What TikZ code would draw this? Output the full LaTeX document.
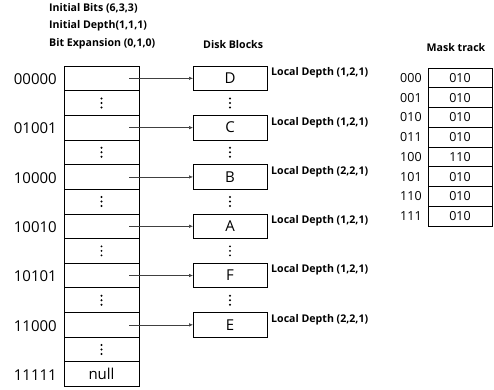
\documentclass[tikz,border=0pt]{standalone}
\usepackage{fontspec}
\setmainfont{Open Sans}
\usetikzlibrary{arrows.meta}
\begin{document}
\begin{tikzpicture}[x=1pt,y=-1pt,
  cell/.style={draw,line width=0.8pt,minimum width=75pt,minimum height=24.65pt,inner sep=0pt,outer sep=0pt,font=\fontsize{15}{15}\selectfont},
  blk/.style={cell,minimum width=74pt},
  mcell/.style={draw,line width=0.8pt,minimum width=64pt,minimum height=19.75pt,inner sep=0pt,outer sep=0pt,font=\fontsize{12.5}{12.5}\selectfont},
  rowlab/.style={anchor=east,font=\fontsize{15}{15}\selectfont,inner sep=0pt},
  mlab/.style={anchor=west,font=\fontsize{12.5}{12.5}\selectfont,inner sep=0pt},
  hdr/.style={anchor=west,font=\bfseries\fontsize{10.6}{10.6}\selectfont,inner sep=0pt},
  ptr/.style={-{Latex[length=4pt,width=3.5pt]},line width=0.6pt,draw=black!75},
]
\useasboundingbox (0,0) rectangle (494,389);
% headers
\node[hdr] (h1) at (49,8) {Initial Bits (6,3,3)};
\node[hdr] (h2) at (49,26) {Initial Depth(1,1,1)};
\node[hdr] (h3) at (49,44) {Bit Expansion (0,1,0)};
\node[hdr] (h4) at (203,45) {Disk Blocks};
\node[hdr,anchor=center] (h5) at (456,48) {Mask track};
% left table
\foreach \i in {0,...,12} {
  \pgfmathsetmacro\yy{66+24.65*(\i+0.5)}
  \node[cell] (L\i) at (101.5,\yy) {};
}
\foreach \i/\lab in {0/00000,2/01001,4/10000,6/10010,8/10101,10/11000,12/11111} {
  \node[rowlab] (R\i) at ([xshift=-7pt,yshift=-1pt]L\i.west) {\lab};
}
\node[font=\fontsize{15}{15}\selectfont,inner sep=0pt] (nul) at (L12.center) {null};
\foreach \i in {1,3,5,7,9,11} {
  \foreach \d in {-4.5,0,4.5} \fill ([yshift=\d pt]L\i.center) circle (1.1pt);
}
% disk blocks
\foreach \k/\r/\lab/\dep in {0/0/D/{(1,2,1)},1/2/C/{(1,2,1)},2/4/B/{(2,2,1)},3/6/A/{(1,2,1)},4/8/F/{(1,2,1)},5/10/E/{(2,2,1)}} {
  \pgfmathsetmacro\yy{66+24.65*(\r+0.5)}
  \node[blk] (B\k) at (230,\yy) {\lab};
  \node[hdr] (D\k) at ([xshift=4pt,yshift=-7pt]B\k.north east) {Local Depth \dep};
  \draw[ptr] ([xshift=27.5pt]L\r.center) -- (B\k.west);
}
\foreach \r in {1,3,5,7,9} {
  \pgfmathsetmacro\yy{66+24.65*(\r+0.5)}
  \coordinate (V\r) at (230,\yy);
  \foreach \d in {-4.5,0,4.5} \fill ([yshift=\d pt]V\r) circle (1.1pt);
}
% mask track
\foreach \lab/\val [count=\i from 0] in {000/010,001/010,010/010,011/010,100/110,101/010,110/010,111/010} {
  \pgfmathsetmacro\yy{68+19.75*(\i+0.5)}
  \node[mcell] (M\i) at (460,\yy) {\val};
  \node[mlab] (ML\i) at (400,\yy) {\lab};
}
\end{tikzpicture}
\end{document}
